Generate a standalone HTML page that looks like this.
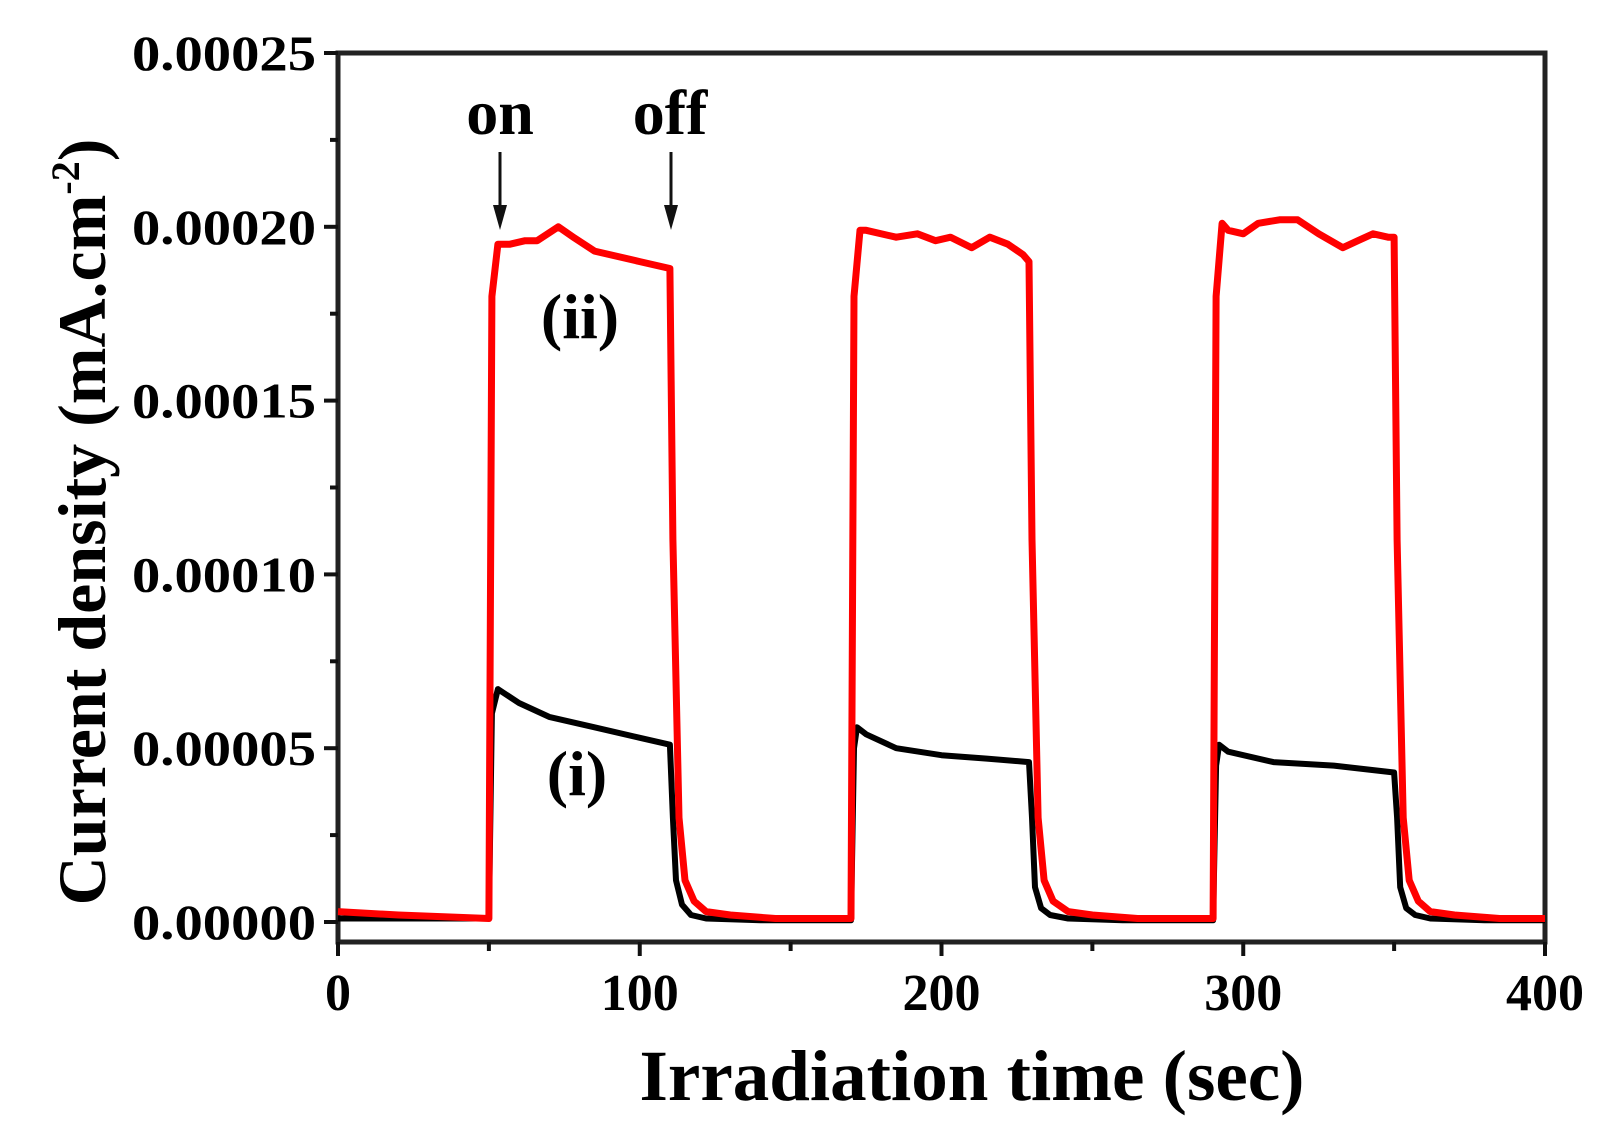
<!DOCTYPE html>
<html><head><meta charset="utf-8"><style>
body{margin:0;background:#fff;}
svg{display:block;font-family:"Liberation Serif",serif;font-weight:bold;}
</style></head><body>
<svg id="chart" width="1604" height="1124">
<g id="axes"></g>
<g id="series"></g>
</svg>
<script>
const xTicks=[0,100,200,300,400];
const yTicks=[0,0.00005,0.0001,0.00015,0.0002,0.00025];
const yTickLabels=["0.00000","0.00005","0.00010","0.00015","0.00020","0.00025"];
const timeRed=[0,20,50,51,53,57,62,66,73,78,85,100,110,111,113,115,118,122,130,145,170,171,173,175,185,192,198,203,210,216,222,227,229,230,232,234,237,242,250,265,290,291,293,295,300,305,312,318,325,333,338,343,348,350,351,353,355,358,362,370,385,400];
const valRed=[0.000003,0.000002,0.000001,0.00018,0.000195,0.000195,0.000196,0.000196,0.0002,0.000197,0.000193,0.00019,0.000188,0.00011,0.00003,0.000012,0.000006,0.000003,0.000002,0.000001,0.000001,0.00018,0.000199,0.000199,0.000197,0.000198,0.000196,0.000197,0.000194,0.000197,0.000195,0.000192,0.00019,0.00011,0.00003,0.000012,0.000006,0.000003,0.000002,0.000001,0.000001,0.00018,0.000201,0.000199,0.000198,0.000201,0.000202,0.000202,0.000198,0.000194,0.000196,0.000198,0.000197,0.000197,0.00011,0.00003,0.000012,0.000006,0.000003,0.000002,0.000001,0.000001];
const timeBlack=[0,50,51,53,60,70,85,100,110,111,112,114,117,122,140,170,171,172,175,185,200,215,229,230,231,233,236,242,260,290,291,292,295,310,330,350,351,352,354,357,362,380,400];
const valBlack=[0.000001,0.000001,0.00006,0.000067,0.000063,0.000059,0.000056,0.000053,0.000051,0.00003,0.000012,0.000005,0.000002,0.000001,0.0000005,0.0000005,0.00005,0.000056,0.000054,0.00005,0.000048,0.000047,0.000046,0.00003,0.00001,0.000004,0.000002,0.000001,0.0000005,0.0000005,0.000045,0.000051,0.000049,0.000046,0.000045,0.000043,0.00003,0.00001,0.000004,0.000002,0.000001,0.0000005,0.0000005];
const NS="http://www.w3.org/2000/svg";
const X0=338,X1=1545,Y0=922,Y1=53,BOT=942;
const xs=t=>X0+(t/400)*(X1-X0);
const ys=v=>Y0-(v/0.00025)*(Y0-Y1);
function mk(tag,attrs,parent,text){const e=document.createElementNS(NS,tag);for(const k in attrs)e.setAttribute(k,attrs[k]);if(text!==undefined)e.textContent=text;parent.appendChild(e);return e;}
const ax=document.getElementById('axes'),se=document.getElementById('series');
const frame=mk('rect',{x:X0,y:Y1,width:X1-X0,height:BOT-Y1,fill:'none',stroke:'#222','stroke-width':5},ax);


yTicks.forEach((v,i)=>{
 const l=mk('line',{x1:X0-14,x2:X0,y1:ys(v),y2:ys(v),stroke:'#111','stroke-width':4},ax);
 
 
 const t=mk('text',{x:X0-22,y:ys(v)+17,'text-anchor':'end','font-size':50,textLength:184,lengthAdjust:'spacingAndGlyphs'},ax,yTickLabels[i]);
 
 
 if(i<yTicks.length-1){const m=mk('line',{x1:X0-8,x2:X0,y1:ys(v+0.000025),y2:ys(v+0.000025),stroke:'#111','stroke-width':4},ax);
 
 }
});
xTicks.forEach((v,i)=>{
 const l=mk('line',{x1:xs(v),x2:xs(v),y1:BOT,y2:BOT+14,stroke:'#111','stroke-width':4},ax);
 
 
 const t=mk('text',{x:xs(v),y:BOT+68,'text-anchor':'middle','font-size':52},ax,String(v));
 
 
 if(i<xTicks.length-1){const m=mk('line',{x1:xs(v+50),x2:xs(v+50),y1:BOT,y2:BOT+9,stroke:'#111','stroke-width':4},ax);
 
 }
});
const xt=mk('text',{x:972,y:1100,'text-anchor':'middle','font-size':72,textLength:665,lengthAdjust:'spacingAndGlyphs'},ax,'Irradiation time (sec)');


const yt=mk('text',{x:0,y:0,'text-anchor':'middle','font-size':68,transform:'translate(105,522) rotate(-90)'},ax);


yt.innerHTML='Current density (mA.cm<tspan dy="-26" font-size="40">-2</tspan><tspan dy="26">)</tspan>';
function path(ts,vs){return ts.map((t,i)=>(i?'L':'M')+xs(t).toFixed(1)+' '+ys(vs[i]).toFixed(1)).join(' ');}
const pb=mk('path',{d:path(timeBlack,valBlack),fill:'none',stroke:'#000','stroke-width':6,'stroke-linejoin':'round'},se);


const pr=mk('path',{d:path(timeRed,valRed),fill:'none',stroke:'#ff0000','stroke-width':7,'stroke-linejoin':'round'},se);


const ann=[['on',500,134,'on-label'],['off',670,134,'off-label'],['(ii)',580,338,'series-ii-label'],['(i)',577,795,'series-i-label']];
ann.forEach(a=>{const t=mk('text',{x:a[1],y:a[2],'text-anchor':'middle','font-size':64},se,a[0]);
 
 });
[[500],[671]].forEach(a=>{const g=mk('g',{},se);
 
 
 mk('line',{x1:a[0],x2:a[0],y1:152,y2:215,stroke:'#111','stroke-width':3},g);
 mk('path',{d:`M${a[0]-7} 205 L${a[0]+7} 205 L${a[0]} 230 Z`,fill:'#111'},g);});
</script>
</body></html>
